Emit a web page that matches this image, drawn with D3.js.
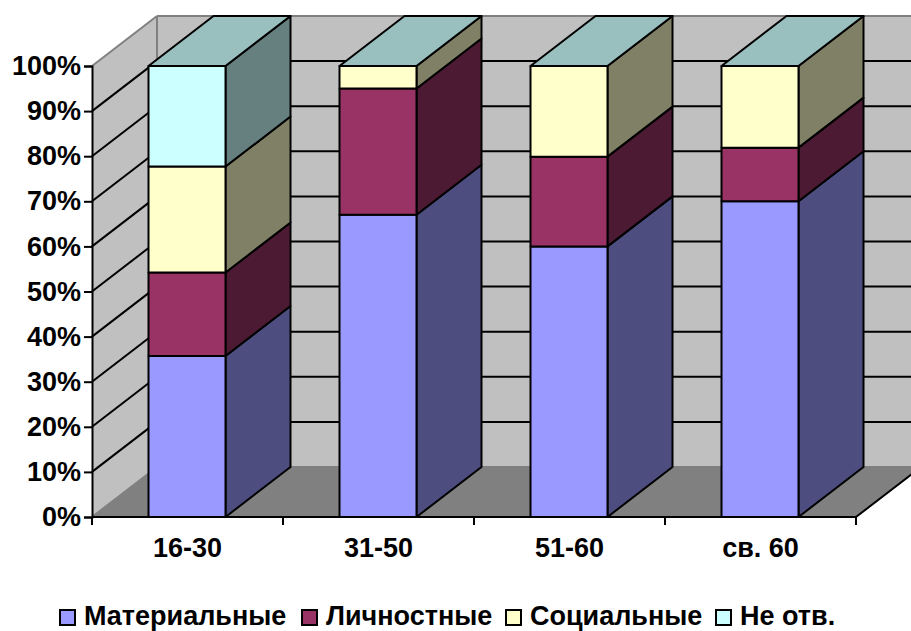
<!DOCTYPE html>
<html><head><meta charset="utf-8">
<script src="https://cdn.jsdelivr.net/npm/d3@7/dist/d3.min.js"></script>
<style>html,body{margin:0;padding:0;background:#fff}svg{display:block}
text{font-family:"Liberation Sans",Arial,sans-serif;font-weight:bold;fill:#000}</style>
</head><body><svg id="c" width="911" height="631"></svg>
<script>
const categories = ["16-30","31-50","51-60","св. 60"];
const seriesNames = ["Материальные","Личностные","Социальные","Не отв."];
const material = [35.7,67,60,70];
const personal = [18.5,28,19.9,11.9];
const social = [23.5,5,20.1,18.1];
const noAnswer = [22.3,0,0,0];
const front = ["#9999FF","#993366","#FFFFCC","#CCFFFF"];
const side = ["#4D4D80","#4D1A33","#808066","#668080"];
const topFace = "#99BFBF";
const yTicks = d3.range(0,101,10);
const legendX = [59,301,505,715];

const svg = d3.select("#c");
const dx = 65, dy = -50;
const x = d3.scaleBand().domain(categories).range([92,856]).paddingInner(0).paddingOuter(0);
const y = d3.scaleLinear().domain([0,100]).range([517,66]);
const bw = 77;
const bar = c => x(c) + (x.bandwidth()-bw)/2 - 0.5;
const poly = (pts,fill,stroke,sw) => svg.append("polygon").attr("points",pts.map(p=>p.join(",")).join(" "))
  .attr("fill",fill).attr("stroke",stroke||"none").attr("stroke-width",sw||0).attr("stroke-linejoin","round");
const line = (a,b,col,sw) => svg.append("line").attr("x1",a[0]).attr("y1",a[1]).attr("x2",b[0]).attr("y2",b[1]).attr("stroke",col).attr("stroke-width",sw);

const x0=x.range()[0], x1=x.range()[1], y0=y(0), y100=y(100);
// walls and floor
poly([[x0+dx,y100+dy],[x1+dx,y100+dy],[x1+dx,y0+dy],[x0+dx,y0+dy]],"#C0C0C0");
poly([[x0,y100],[x0+dx,y100+dy],[x0+dx,y0+dy],[x0,y0]],"#C0C0C0");
poly([[x0,y0],[x1,y0],[x1+dx,y0+dy],[x0+dx,y0+dy]],"#808080");
// gridlines
yTicks.filter(t=>t>0&&t<100).forEach(t=>{
  line([x0,y(t)],[x0+dx,y(t)+dy],"#000",2);
  line([x0+dx,y(t)+dy],[x1+dx,y(t)+dy],"#000",2);
});
// wall outlines
line([x0,y100],[x0+dx,y100+dy],"#808080",2);
line([x0+dx,y100+dy],[x1+dx,y100+dy],"#808080",2);
line([x0+dx,y100+dy],[x0+dx,y0+dy],"#808080",2);
line([x0,y0],[x0+dx,y0+dy],"#808080",2);
line([x0+dx,y0+dy],[x1+dx,y0+dy],"#808080",2);
line([x1,y0],[x1+dx,y0+dy],"#000",2);
// bars
const stacks=[material,personal,social,noAnswer];
categories.forEach((c,i)=>{
  let acc=0; const l=bar(c), r=l+bw;
  stacks.forEach((s,k)=>{
    const v=s[i];
    if(v>0){
      const a=y(acc), b=y(acc+v);
      poly([[r,a],[r+dx,a+dy],[r+dx,b+dy],[r,b]],side[k],"#000",2);
      poly([[l,a],[r,a],[r,b],[l,b]],front[k],"#000",2);
    }
    acc+=v;
  });
  const t=y(100);
  poly([[l,t],[r,t],[r+dx,t+dy],[l+dx,t+dy]],topFace,"#000",2);
});
// axes
const yAxis=d3.axisLeft(y).tickValues(yTicks).tickFormat(d=>d+"%").tickSize(8).tickPadding(3);
const gy=svg.append("g").attr("transform",`translate(${x0},0)`).call(yAxis);
gy.selectAll("path,line").attr("stroke","#000").attr("stroke-width",2);
gy.selectAll("text").style("font-size","27px").style("font-family",'"Liberation Sans"').style("font-weight","bold");
svg.append("line").attr("x1",x0).attr("x2",x1).attr("y1",y0).attr("y2",y0).attr("stroke","#000").attr("stroke-width",2);
[...categories.map(c=>x(c)),x1].forEach(v=>line([v,y0],[v,y0+8],"#000",2));
categories.forEach(c=>svg.append("text").attr("x",x(c)+x.bandwidth()/2).attr("y",557).attr("text-anchor","middle").style("font-size","27px").text(c));
// legend
seriesNames.forEach((n,i)=>{
  svg.append("rect").attr("x",legendX[i]+1).attr("y",610).attr("width",15).attr("height",15).attr("fill",front[i]).attr("stroke","#000").attr("stroke-width",2);
  svg.append("text").attr("x",legendX[i]+25).attr("y",625).style("font-size","27px").text(n);
});
</script></body></html>
